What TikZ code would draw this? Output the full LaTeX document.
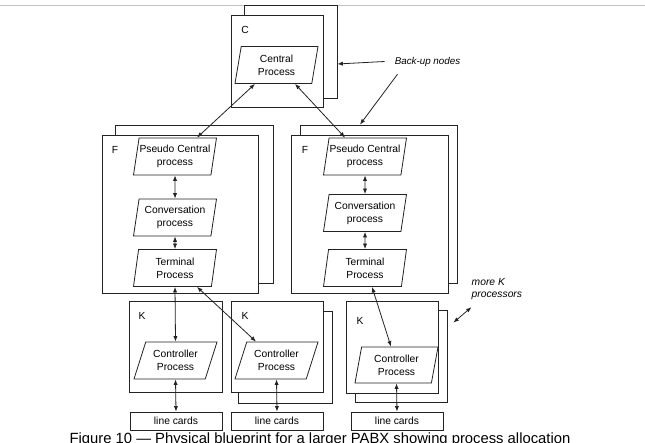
\documentclass[tikz,border=0pt]{standalone}
\usepackage{fontspec}
\setmainfont{Liberation Sans}
\usetikzlibrary{shapes,arrows.meta,positioning}
\definecolor{RuleGray}{RGB}{195,195,195}
\definecolor{LineDark}{RGB}{35,35,35}

\begin{document}
\begin{tikzpicture}[x=1pt, y=-1pt,
    font=\fontsize{10.3}{12.8}\selectfont,
    box/.style={draw=LineDark, line width=0.8pt, fill=white, inner sep=0pt},
    proc/.style={trapezium, trapezium left angle=#1, trapezium right angle={180-#1},
      trapezium stretches body, draw=LineDark, line width=0.8pt, fill=white,
      inner sep=0pt, minimum width=83, minimum height=37, align=center},
    lbl/.style={inner sep=0pt},
    link/.style={<->, >={Latex[length=5.5pt,width=4.2pt]}, line width=0.8pt, draw=LineDark}]
    \useasboundingbox (0,0) rectangle (645,443);
    \draw[RuleGray, line width=1.4pt] (0,5.5) -- (645,5.5);

    % Central node and its back-up
    \node[box, minimum width=93, minimum height=93] (cback) at (290.5,51.5) {};
    \node[box, minimum width=92, minimum height=92] (cfront) at (277,61) {};
    \node[lbl] at (245,30) {C};
    \node[proc=73] (cen) at (276.5,65) {Central\\Process};
    \node[lbl, font=\fontsize{9.8}{12}\selectfont\itshape] (bk) at (427.5,61.5) {Back-up nodes};

    % F processor, left
    \node[box, minimum width=158, minimum height=158] (f1back) at (194,204) {};
    \node[box, minimum width=156, minimum height=158] (f1front) at (180,214) {};
    \node[lbl] at (115,150) {F};
    \node[proc=76] (pse1) at (175,156.5) {Pseudo Central\\process};
    \node[proc=76] (con1) at (175,217.5) {Conversation\\process};
    \node[proc=76] (ter1) at (175,268) {Terminal\\Process};

    % F processor, right
    \node[box, minimum width=157, minimum height=158] (f2back) at (378.5,204) {};
    \node[box, minimum width=157, minimum height=158] (f2front) at (369.5,214) {};
    \node[lbl] at (305,150) {F};
    \node[proc=76] (pse2) at (365,156.5) {Pseudo Central\\process};
    \node[proc=76] (con2) at (365,213) {Conversation\\process};
    \node[proc=76] (ter2) at (365,268) {Terminal\\Process};

    % K processors
    \node[box, minimum width=93, minimum height=91] (k1front) at (175.5,346.5) {};
    \node[lbl] at (142,316) {K};
    \node[proc=60] (ctl1) at (175.5,360.5) {Controller\\Process};

    \node[box, minimum width=94, minimum height=92] (k2back) at (285,357) {};
    \node[box, minimum width=92, minimum height=91] (k2front) at (277,346.5) {};
    \node[lbl] at (245,316) {K};
    \node[proc=60] (ctl2) at (276.5,360.5) {Controller\\Process};

    \node[box, minimum width=92, minimum height=92] (k3back) at (401,356) {};
    \node[box, minimum width=92, minimum height=92] (k3front) at (392,347) {};
    \node[lbl] at (360,321) {K};
    \node[proc=72, minimum height=36] (ctl3) at (396.5,365) {Controller\\Process};
    \node[lbl, anchor=north west, align=left, font=\fontsize{10.3}{12.5}\selectfont\itshape]
      (mk) at (471.5,278) {more K\\processors};

    % line cards
    \node[box, minimum width=92, minimum height=18] (lc1) at (176,421) {line cards};
    \node[box, minimum width=92, minimum height=18] (lc2) at (277,421) {line cards};
    \node[box, minimum width=92, minimum height=18] (lc3) at (397,421) {line cards};

    % links
    \draw[link] ([xshift=-21.5pt]cen.south) -- ([xshift=22pt]pse1.north);
    \draw[link] ([xshift=18.5pt]cen.south) -- ([xshift=-20pt]pse2.north);
    \draw[link] (pse1.south) -- (con1.north);
    \draw[link] (con1.south) -- (ter1.north);
    \draw[link] (pse2.south) -- (con2.north);
    \draw[link] (con2.south) -- (ter2.north);
    \draw[link] (ter1.south) -- (ctl1.north);
    \draw[link] ([xshift=22pt]ter1.south) -- ([xshift=-20.5pt]ctl2.north);
    \draw[link] ([xshift=7pt]ter2.south) -- ([xshift=-5.5pt]ctl3.north);
    \draw[link] (ctl1.south) -- (lc1.north);
    \draw[link] (ctl2.south) -- (lc2.north);
    \draw[link] (ctl3.south) -- (lc3.north);
    \draw[link] ([xshift=6pt,yshift=-13pt]k3back.north east) -- ([yshift=-7pt]mk.south west);

    % back-up pointers
    \draw[link, <-] ([yshift=-12.5pt]cback.east) -- ([xshift=-10pt]bk.west);
    \draw[link, ->] ([xshift=-30pt,yshift=-8pt]bk.south) -- ([xshift=-18.5pt]f2back.north);

    \node[anchor=base, font=\fontsize{14.8}{17}\selectfont] (cap) at (320,443.5)
      {Figure 10 — Physical blueprint for a larger PABX showing process allocation};
\end{tikzpicture}
\end{document}
